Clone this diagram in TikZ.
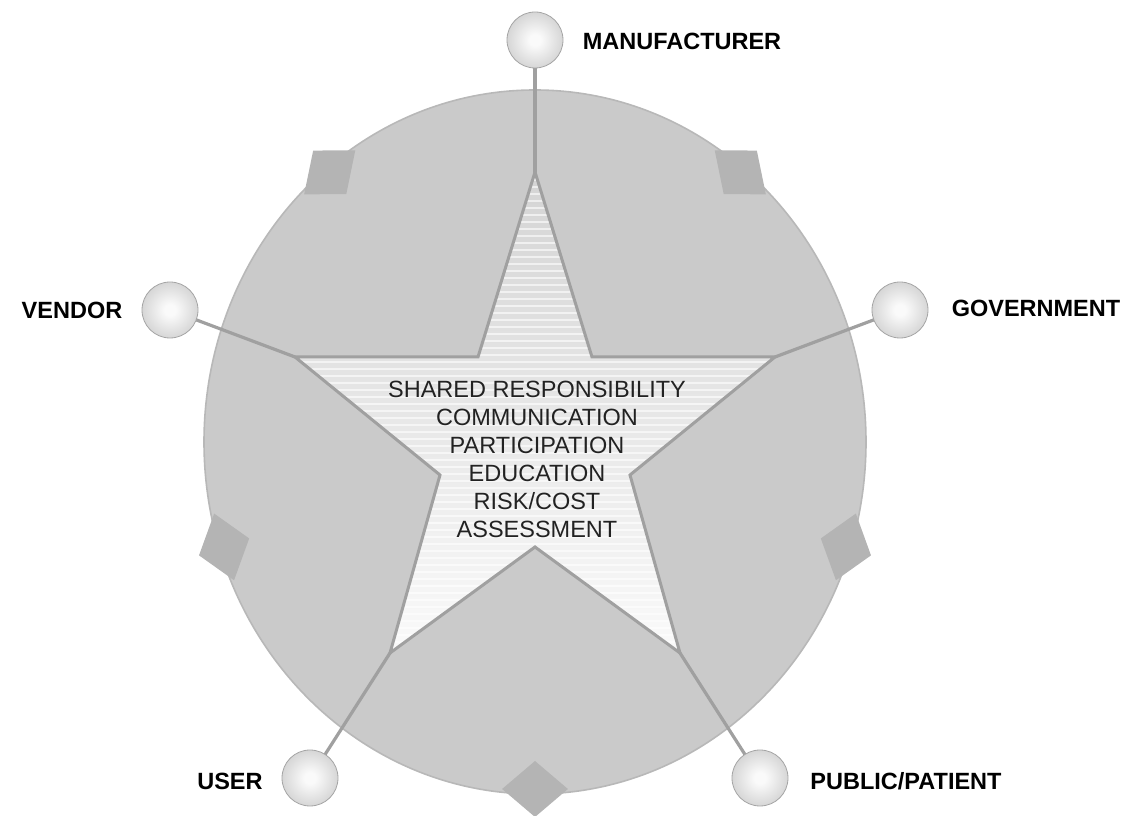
\documentclass[tikz,border=0pt]{standalone}
\usepackage{fontspec}
\setmainfont{Liberation Sans}
\usetikzlibrary{calc}
\definecolor{petal}{RGB}{202,202,202}
\definecolor{rim}{RGB}{184,184,184}
\definecolor{tab}{RGB}{180,180,180}
\definecolor{spoke}{RGB}{160,160,160}
\definecolor{startop}{RGB}{212,212,212}
\definecolor{starbot}{RGB}{250,250,250}
\definecolor{ballA}{RGB}{250,250,250}
\definecolor{ballB}{RGB}{212,212,212}
\definecolor{ballC}{RGB}{178,178,178}
\definecolor{ballD}{RGB}{165,165,165}
\definecolor{txt}{RGB}{34,34,34}
\pgfdeclareradialshading{ballshade}{\pgfpointorigin}{color(0bp)=(ballA); color(5bp)=(ballA); color(26bp)=(ballB); color(44bp)=(ballC); color(50bp)=(ballD)}
\pgfdeclarelayer{bg}
\pgfsetlayers{bg,main}
\tikzset{
  ball/.style={circle, minimum size=56pt, inner sep=0pt, shading=ballshade, draw=ballD, line width=0.8pt},
  spokeline/.style={draw=spoke, line width=3.2pt, line cap=round},
  staredge/.style={draw=spoke, line width=3pt, line join=miter},
  lab/.style={font=\fontsize{23.5}{28}\selectfont\bfseries, text=black, inner sep=0pt, anchor=base},
  core/.style={font=\fontsize{23.5}{28}\selectfont, text=txt, inner sep=0pt, anchor=base},
  tabshape/.style={fill=tab}
}
\begin{document}
\begin{tikzpicture}[x=1pt,y=1pt]
\useasboundingbox (0,0) rectangle (1143,816);
% spheres
\node[ball] (sM) at (535,776) {};
\node[ball] (sV) at (170,506) {};
\node[ball] (sG) at (900,506) {};
\node[ball] (sU) at (310,38) {};
\node[ball] (sP) at (760,38) {};
% star vertices
\coordinate (T)  at (535,644);
\coordinate (TR) at (592,459);
\coordinate (UR) at (775,459);
\coordinate (R)  at (630,341);
\coordinate (LR) at (680,163);
\coordinate (B)  at (535,269);
\coordinate (LL) at (390,163);
\coordinate (L)  at (440,341);
\coordinate (UL) at (295,459);
\coordinate (TL) at (478,459);
\coordinate (c0) at (535,374);
\begin{pgfonlayer}{bg}
  % disc
  \path[fill=petal, draw=rim, line width=1.6pt] (c0) ellipse [x radius=331, y radius=352];
  % tabs
  \begin{scope}[shift={(c0)}, xscale=0.94]
    \foreach \a in {51,129,197.6,270,342.4}{
      \fill[tabshape] (\a:375) -- ($(\a:347)+(\a+90:35)$) -- (\a:319) -- ($(\a:347)+(\a-90:35)$) -- cycle;
    }
  \end{scope}
  % star
  \path[top color=startop, bottom color=starbot] (T) -- (TR) -- (UR) -- (R) -- (LR) -- (B) -- (LL) -- (L) -- (UL) -- (TL) -- cycle;
  \begin{scope}
    \clip (T) -- (TR) -- (UR) -- (R) -- (LR) -- (B) -- (LL) -- (L) -- (UL) -- (TL) -- cycle;
    \foreach \yy in {160,167,...,650}{
      \draw[white, opacity=0.6, line width=2.2pt] (280,\yy) -- (800,\yy);
    }
  \end{scope}
  \path[staredge] (T) -- (TR) -- (UR) -- (R) -- (LR) -- (B) -- (LL) -- (L) -- (UL) -- (TL) -- cycle;
  % spokes
  \draw[spokeline] (T) -- (sM.center);
  \draw[spokeline] (UL) -- (sV.center);
  \draw[spokeline] (UR) -- (sG.center);
  \draw[spokeline] (LL) -- (sU.center);
  \draw[spokeline] (LR) -- (sP.center);
\end{pgfonlayer}
% labels
\node[lab] (tM) at (682,766) {MANUFACTURER};
\node[lab] (tV) at (72,497) {VENDOR};
\node[lab] (tG) at (1036,499) {GOVERNMENT};
\node[lab] (tU) at (230,26) {USER};
\node[lab] (tP) at (906,26) {PUBLIC/PATIENT};
% core text
\node[core] (l1) at (537,418) {SHARED RESPONSIBILITY};
\node[core] (l2) at (537,390) {COMMUNICATION};
\node[core] (l3) at (537,362) {PARTICIPATION};
\node[core] (l4) at (537,334) {EDUCATION};
\node[core] (l5) at (537,306) {RISK/COST};
\node[core] (l6) at (537,278) {ASSESSMENT};
\end{tikzpicture}
\end{document}
